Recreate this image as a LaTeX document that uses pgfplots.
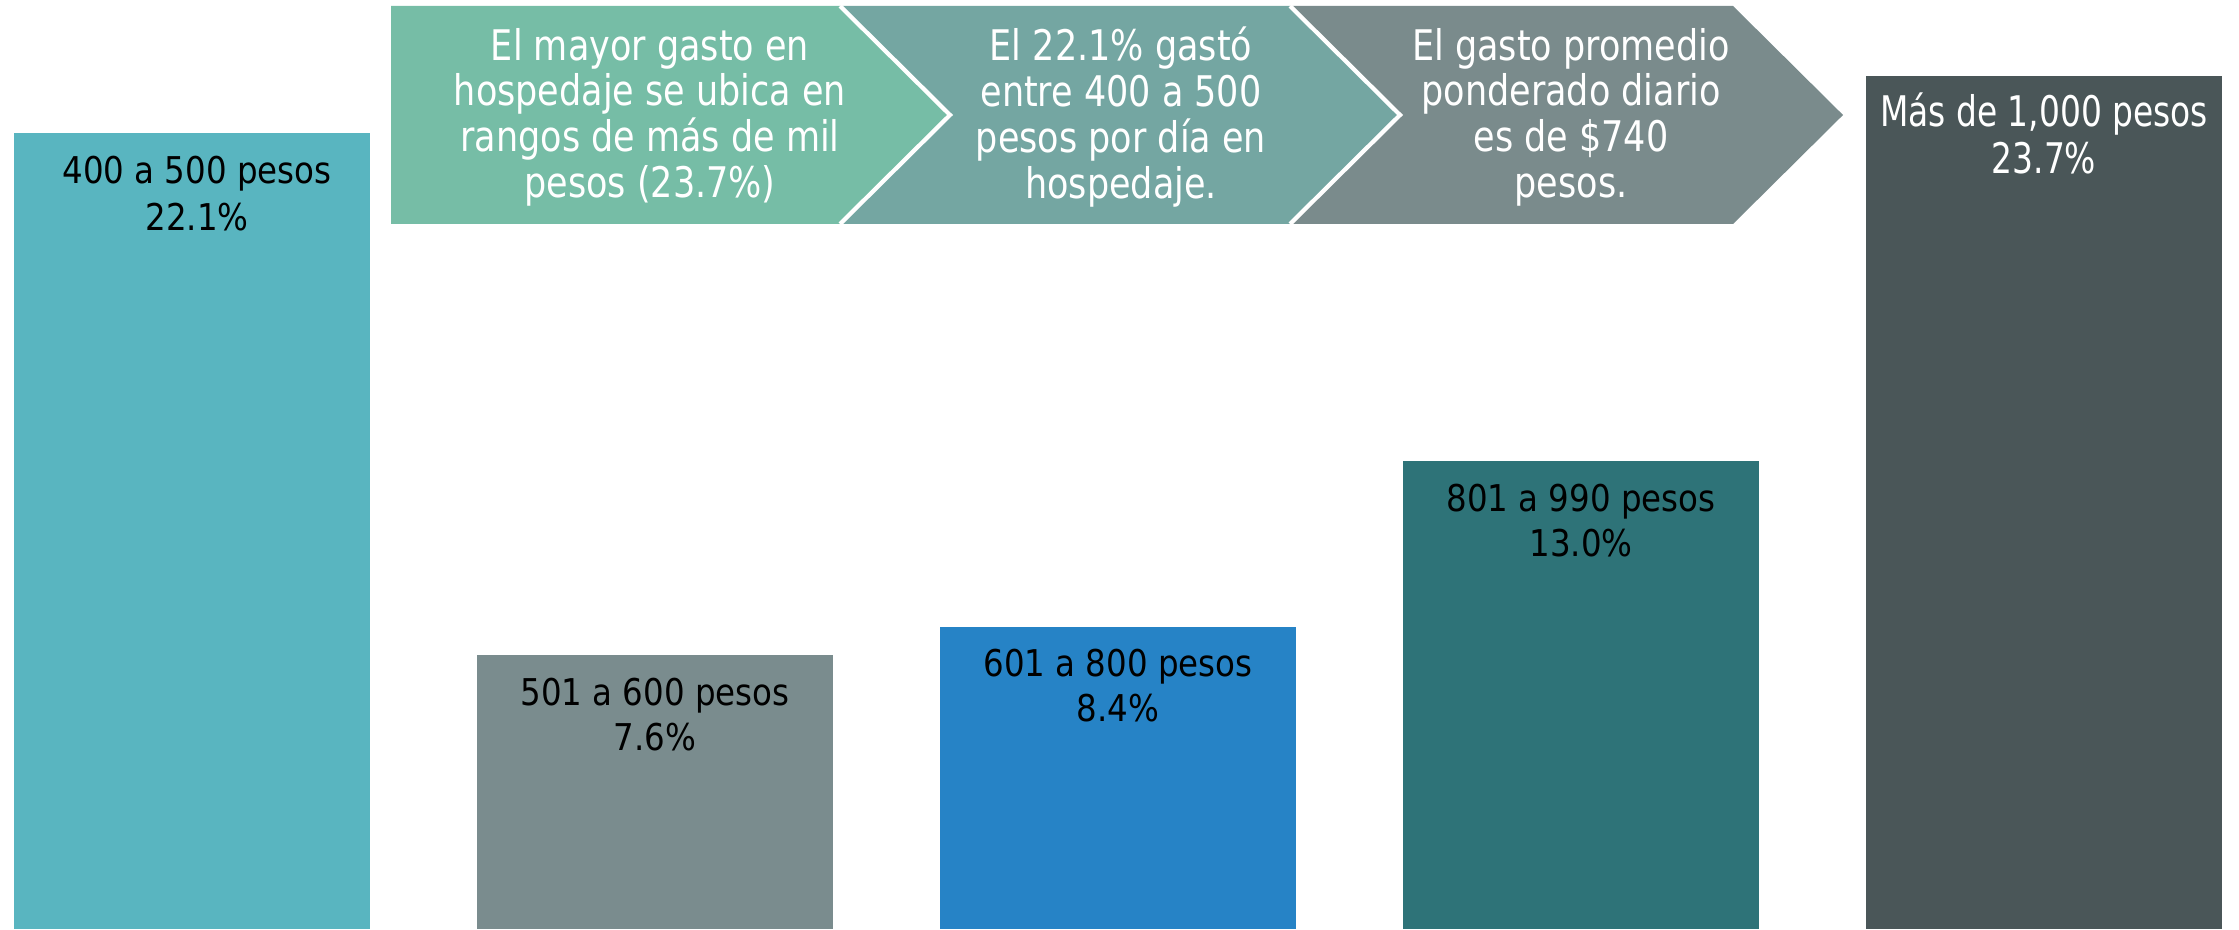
\documentclass[border=0pt]{standalone}
\usepackage{pgfplots}
\pgfplotsset{compat=1.18}
\usepackage{fontspec}
\setmainfont{DejaVu Sans}
\newfontfamily\barfont[FakeStretch=0.88]{DejaVu Sans}
\newfontfamily\bigbarfont[FakeStretch=0.78]{DejaVu Sans}
\newfontfamily\arrowfont[FakeStretch=0.83]{DejaVu Sans}
\definecolor{aone}{HTML}{76BDA6}
\definecolor{atwo}{HTML}{74A6A2}
\definecolor{athree}{HTML}{7A8B8C}
\definecolor{bone}{HTML}{59B5C0}
\definecolor{btwo}{HTML}{7A8C8E}
\definecolor{bthree}{HTML}{2683C6}
\definecolor{bfour}{HTML}{2E7378}
\definecolor{bfive}{HTML}{4A5658}
\begin{document}
\begin{tikzpicture}
\begin{axis}[
  width=223.9mm, height=92.9mm, scale only axis,
  xmin=-0.4147, xmax=4.4212, ymin=0, ymax=25.806,
  hide axis, ybar, bar width=35.6mm, clip=false,
]
\addplot[fill=bone, draw=none, bar shift=0pt] coordinates {(0,22.1)};
\addplot[fill=btwo, draw=none, bar shift=0pt] coordinates {(1,7.6)};
\addplot[fill=bthree, draw=none, bar shift=0pt] coordinates {(2,8.4)};
\addplot[fill=bfour, draw=none, bar shift=0pt] coordinates {(3,13.0)};
\addplot[fill=bfive, draw=none, bar shift=0pt] coordinates {(4,23.7)};
% bar labels
\begin{scope}[every node/.style={inner sep=0pt, anchor=base, font=\barfont\fontsize{10.5}{12.6}\selectfont, text=black}]
\node[yshift=-5mm, xshift=0.5mm] at (axis cs:0,22.1) {400 a 500 pesos};
\node[yshift=-9.7mm, xshift=0.5mm] at (axis cs:0,22.1) {22.1\%};
\node[yshift=-5mm] at (axis cs:1,7.6) {501 a 600 pesos};
\node[yshift=-9.5mm] at (axis cs:1,7.6) {7.6\%};
\node[yshift=-5mm] at (axis cs:2,8.4) {601 a 800 pesos};
\node[yshift=-9.5mm] at (axis cs:2,8.4) {8.4\%};
\node[yshift=-5mm] at (axis cs:3,13.0) {801 a 990 pesos};
\node[yshift=-9.5mm] at (axis cs:3,13.0) {13.0\%};
\end{scope}
\begin{scope}[every node/.style={inner sep=0pt, anchor=base, font=\bigbarfont\fontsize{12}{14}\selectfont, text=white}]
\node[yshift=-5.1mm] at (axis cs:4,23.7) {Más de 1,000 pesos};
\node[yshift=-9.8mm] at (axis cs:4,23.7) {23.7\%};
\end{scope}
\end{axis}
\begin{scope}[x=0.1mm, y=-0.1mm, yshift=92.9mm]
\fill[aone] (391,6) -- (840,6) -- (950,115) -- (840,224) -- (391,224) -- cycle;
\fill[atwo] (840,6) -- (1290,6) -- (1400,115) -- (1290,224) -- (840,224) -- (950,115) -- cycle;
\fill[athree] (1290,6) -- (1733,6) -- (1843,115) -- (1733,224) -- (1290,224) -- (1400,115) -- cycle;
\draw[white, line width=1.2pt] (840,6) -- (950,115) -- (840,224);
\draw[white, line width=1.2pt] (1290,6) -- (1400,115) -- (1290,224);
\begin{scope}[every node/.style={inner sep=0pt, align=center, text=white, font=\arrowfont\fontsize{12}{13}\selectfont}]
\node at (650,117) {El mayor gasto en\\hospedaje se ubica en\\rangos de más de mil\\pesos (23.7\%)};
\node at (1121,117) {El 22.1\% gastó\\entre 400 a 500\\pesos por día en\\hospedaje.};
\node at (1571,117) {El gasto promedio\\ponderado diario\\es de \$740\\pesos.};
\end{scope}
\end{scope}
\pgfresetboundingbox
\useasboundingbox (0,0) rectangle (223.9mm,92.9mm);
\end{tikzpicture}
\end{document}
